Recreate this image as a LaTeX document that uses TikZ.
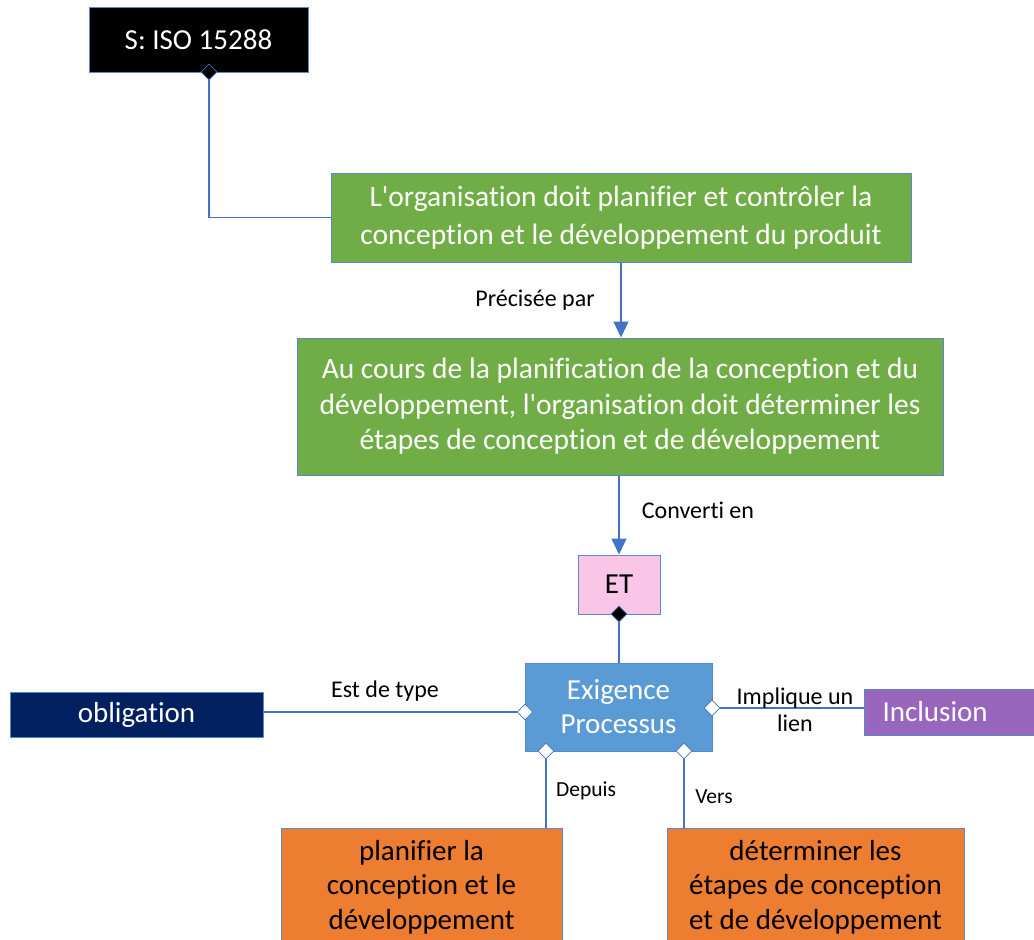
\documentclass[tikz,border=0pt]{standalone}
\usepackage{fontspec}
\setmainfont{Carlito}[Ligatures={TeX,NoCommon}]
\usetikzlibrary{arrows.meta,shapes.geometric}
\definecolor{lienbleu}{HTML}{4472C4}
\definecolor{cadre}{HTML}{5B86D0}
\definecolor{vert}{HTML}{70AD47}
\definecolor{rose}{HTML}{F9C6E8}
\definecolor{bleuexig}{HTML}{5B9BD5}
\definecolor{marine}{HTML}{002060}
\definecolor{violet}{HTML}{9966BE}
\definecolor{orange}{HTML}{ED7D31}

\begin{document}
\begin{tikzpicture}[x=1pt,y=-1pt,
  boite/.style={draw=cadre,line width=1pt,inner sep=0pt,align=center,font=\fontsize{29.5}{36}\selectfont},
  gros/.style={font=\fontsize{29}{34.5}\selectfont},
  lien/.style={draw=lienbleu,line width=1.2pt},
  fleche/.style={lien,-{Triangle[width=15pt,length=16pt]}},
  plein/.style={diamond,draw=lienbleu,fill=black,minimum size=16pt,inner sep=0pt,line width=0.8pt},
  vide/.style={plein,fill=white},
  etiq/.style={font=\fontsize{24}{27}\selectfont,align=center,inner sep=1pt},
  petit/.style={font=\fontsize{21.5}{26}\selectfont}]
\useasboundingbox (0,0) rectangle (1034,940);
\clip (0,0) rectangle (1034,940);
\node[boite,gros,fill=black,text=white,minimum width=219,minimum height=65] (iso) at (198.5,39.5) {S: ISO 15288};
\node[boite,fill=vert,text=white,minimum width=580,minimum height=89,font=\fontsize{29.5}{38}\selectfont] (g1) at (621,217.5) {L{\textquotesingle}organisation doit planifier et contrôler la\\conception et le développement du produit};
\node[boite,fill=vert,text=white,minimum width=646,minimum height=137,font=\fontsize{29.5}{35.5}\selectfont] (g2) at (620,406.5) {Au cours de la planification de la conception et du\\développement, l{\textquotesingle}organisation doit déterminer les\\étapes de conception et de développement};
\node[boite,gros,fill=rose,minimum width=82,minimum height=59] (et) at (619,584.5) {ET};
\node[boite,gros,fill=bleuexig,text=white,minimum width=187,minimum height=88,font=\fontsize{29}{34}\selectfont] (exig) at (618.5,707) {Exigence\\Processus};
\node[boite,gros,fill=marine,text=white,minimum width=253,minimum height=45] (oblig) at (136.5,714.5) {obligation};
\node[boite,gros,fill=violet,text=white,anchor=west,minimum width=180,minimum height=46,text width=144,inner xsep=18,align=left] (incl) at (864,712) {Inclusion};
\node[boite,gros,fill=orange,minimum width=281,minimum height=118] (planif) at (421.5,887) {planifier la\\conception et le\\développement};
\node[boite,gros,fill=orange,minimum width=297,minimum height=118] (determ) at (815.5,887) {déterminer les\\étapes de conception\\et de développement};

\node[plein] (isoD) at (209,72) {};
\node[plein] (etD) at (619,614) {};
\node[vide] (exW) at (525,712) {};
\node[vide] (exE) at (712,708) {};
\node[vide] (exL) at (546,751) {};
\node[vide] (exR) at (684,751) {};

\draw[lien] (isoD.south) |- (g1.west);
\draw[fleche] (g1.south) -- (g1.south |- g2.north);
\draw[fleche] (et.north |- g2.south) -- (et.north);
\draw[lien] (etD.south) -- (etD.south |- exig.north);
\draw[lien] (exW.west) -- (exW.west -| oblig.east);
\draw[lien] (exE.east) -- (exE.east -| incl.west);
\draw[lien] (exL.south) -- (exL.south |- planif.north);
\draw[lien] (exR.south) -- (exR.south |- determ.north);

\node[etiq] (precise) at (535,300) {Précisée par};
\node[etiq] (converti) at (698,510) {Converti en};
\node[etiq] (type) at (385,691) {Est de type};
\node[etiq] (implique) at (795,710) {Implique un\\lien};
\node[etiq,petit] (depuis) at (586,791) {Depuis};
\node[etiq,petit] (vers) at (714,797) {Vers};
\end{tikzpicture}
\end{document}
